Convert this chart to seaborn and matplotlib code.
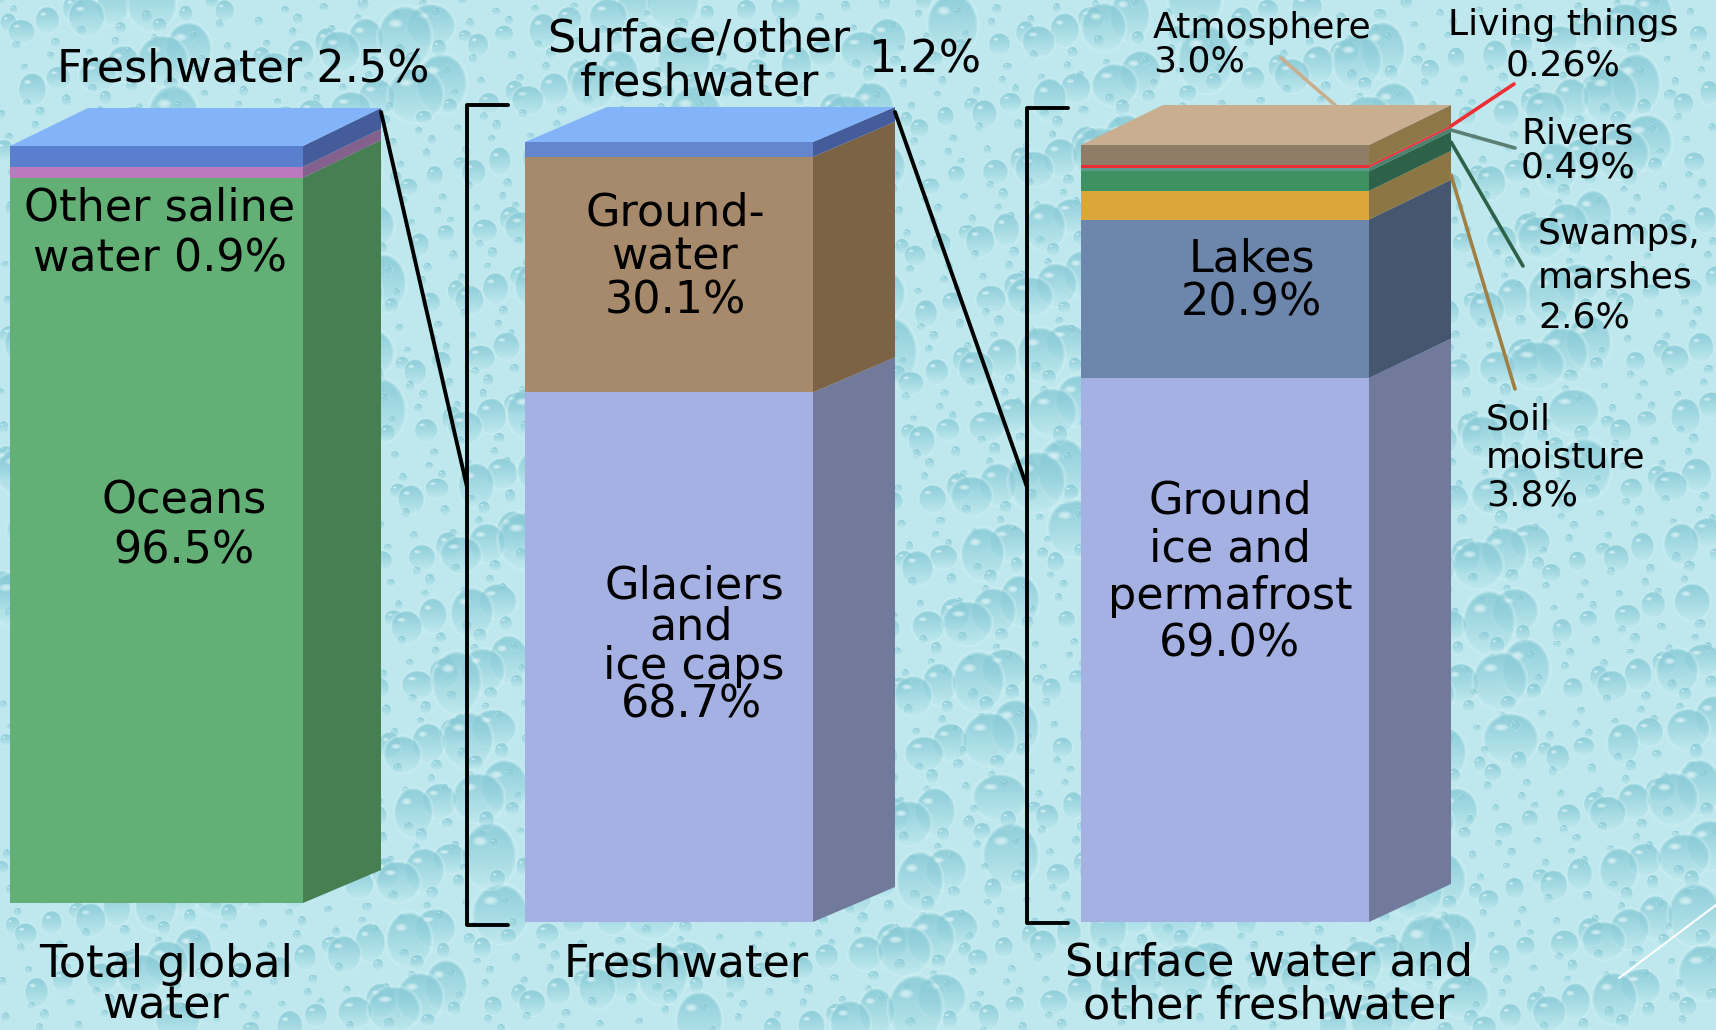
import numpy as np
import matplotlib
matplotlib.use("Agg")
import matplotlib.pyplot as plt
from matplotlib.patches import Polygon
import seaborn as sns

W, H = 1716, 1030

# Layer shares as drawn (bottom to top), in percent of each column
col1_names = ["Oceans", "Other saline water", "Freshwater"]
col1_values = [95.8, 1.45, 2.75]
col2_names = ["Glaciers and ice caps", "Groundwater", "Surface/other freshwater"]
col2_values = [67.9, 30.2, 1.9]
col3_names = ["Ground ice and permafrost", "Lakes", "Soil moisture", "Swamps, marshes",
              "Rivers", "Living things", "Atmosphere"]
col3_values = [70.0, 20.4, 3.7, 2.5, 0.5, 0.3, 2.6]

col1_front = ["#63b076", "#bc79bb", "#5a7fcf"]
col1_side = ["#457f52", "#84608d", "#455c9a"]
col2_front = ["#a5b1e2", "#a78a6c", "#6585cd"]
col2_side = ["#727a9b", "#7d6346", "#455c9a"]
col3_front = ["#a5b1e2", "#6d86ac", "#dca73a", "#3d9162", "#5f9a8c", "#ee2e35", "#8f7d68"]
col3_side = ["#727a9b", "#47566f", "#8c7644", "#2d6249", "#4f7f6e", "#ee2e35", "#8d7748"]
top_colors = ["#83b3f8", "#83b3f8", "#c9ae90"]

large_text = [
    ("Freshwater 2.5%", 243, 69), ("Surface/other", 699, 39), ("freshwater", 699, 83),
    ("1.2%", 925, 60), ("Other saline", 160, 208), ("water 0.9%", 160, 259),
    ("Oceans", 184, 501), ("96.5%", 184, 551), ("Ground-", 675, 213), ("water", 675, 257),
    ("30.1%", 675, 301), ("Glaciers", 694, 586), ("and", 691, 627), ("ice caps", 694, 666),
    ("68.7%", 691, 705), ("Lakes", 1252, 259), ("20.9%", 1251, 303), ("Ground", 1230, 501),
    ("ice and", 1230, 549), ("permafrost", 1230, 597), ("69.0%", 1230, 644),
    ("Total global", 166, 964), ("water", 166, 1006), ("Freshwater", 686, 964),
    ("Surface water and", 1269, 963), ("other freshwater", 1269, 1006),
]
small_center = [
    ("Living things", 1563, 25), ("0.26%", 1563, 65),
    ("Rivers", 1578, 133), ("0.49%", 1578, 168),
]
small_left = [
    ("Atmosphere", 1153, 28), ("3.0%", 1153, 62),
    ("Swamps,", 1538, 234), ("marshes", 1538, 277), ("2.6%", 1538, 318),
    ("Soil", 1486, 419), ("moisture", 1486, 458), ("3.8%", 1486, 496),
]
leaders = [
    ("#c9ae90", [1281, 1335], [58, 105]),
    ("#ee2e35", [1451, 1514], [126, 84]),
    ("#5b7f72", [1451, 1515], [130, 148]),
    ("#2d6249", [1451, 1523], [142, 266]),
    ("#a07f45", [1451, 1515], [175, 389]),
]


def water_texture():
    """Deterministic droplet wallpaper built from low-discrepancy sequences."""
    yy, xx = np.mgrid[0:H, 0:W].astype(float)
    img = np.zeros((H, W, 3))
    img[:] = np.array([190, 232, 238]) / 255
    drop = np.array([136, 202, 214]) / 255
    phi1, phi2, phi3 = 0.7548776662, 0.5698402910, 0.6180339887
    for i in range(3200):
        cx = ((i * phi1) % 1) * W
        cy = ((i * phi2) % 1) * H
        u = (i * phi3) % 1
        r = 4 + 24 * u ** 5
        ry = r * (0.85 + 0.45 * ((i * 0.381) % 1))
        x0, x1 = max(int(cx - r - 2), 0), min(int(cx + r + 3), W)
        y0, y1 = max(int(cy - ry - 2), 0), min(int(cy + ry + 3), H)
        if x1 <= x0 or y1 <= y0:
            continue
        dx = (xx[y0:y1, x0:x1] - cx) / r
        dy = (yy[y0:y1, x0:x1] - cy) / ry
        d = dx ** 2 + dy ** 2
        mask = np.clip((1 - d) * 5, 0, 1)
        grad = np.clip(0.45 - 0.45 * dy, 0.05, 0.8)
        alpha = (mask * grad)[..., None]
        img[y0:y1, x0:x1] = img[y0:y1, x0:x1] * (1 - alpha) + drop * alpha
        ring = np.clip(1 - np.abs(d - 1.08) * 7, 0, 1)[..., None] * 0.4
        img[y0:y1, x0:x1] = img[y0:y1, x0:x1] * (1 - ring) + np.array([0.84, 0.95, 0.96]) * ring
        hl = np.clip(1 - (((dx + 0.35) / 0.3) ** 2 + ((dy + 0.45) / 0.16) ** 2), 0, 1)[..., None] * 0.7
        img[y0:y1, x0:x1] = img[y0:y1, x0:x1] * (1 - hl) + np.array([0.9, 0.97, 0.98]) * hl
    return np.clip(img, 0, 1)


sns.set_theme(style="white")
plt.rcParams["font.family"] = ["DejaVu Sans"]
fig = plt.figure(figsize=(W / 100, H / 100), dpi=100)


def px_axes(left, right, top, bottom, zorder):
    return fig.add_axes([left / W, 1 - bottom / H, (right - left) / W, (bottom - top) / H], zorder=zorder)


bg = px_axes(0, W, 0, H, 0)
bg.imshow(water_texture(), extent=(0, W, H, 0), aspect="auto", interpolation="bilinear")
bg.set_xlim(0, W)
bg.set_ylim(H, 0)
bg.axis("off")


def column(name, values, front, side, top, left, right, back, ytop, ybase, depth_low, depth_high):
    ax = px_axes(left, right, ytop, ybase, 1)
    ax.patch.set_alpha(0)
    total = sum(values)
    scale = (ybase - ytop) / total
    dx = (back - right) / (right - left)

    def dy(v):
        return (depth_low + (depth_high - depth_low) * v / total) / scale

    bottom = 0.0
    for v, fc, sc in zip(values, front, side):
        sns.barplot(x=[name], y=[v], bottom=bottom, color=fc, saturation=1, width=1,
                    errorbar=None, linewidth=0, ax=ax, legend=False)
        up = bottom + v
        ax.add_patch(Polygon([(0.5, bottom), (0.5 + dx, bottom + dy(bottom)), (0.5 + dx, up + dy(up)),
                              (0.5, up)], closed=True, fc=sc, ec="none", clip_on=False))
        bottom = up
    ax.add_patch(Polygon([(-0.5, bottom), (0.5, bottom), (0.5 + dx, bottom + dy(bottom)),
                          (-0.5 + dx, bottom + dy(bottom))],
                         closed=True, fc=top, ec="none", clip_on=False))
    ax.set_xlim(-0.5, 0.5)
    ax.set_ylim(0, total)
    ax.axis("off")
    return ax


column("Total global water", col1_values, col1_front, col1_side, top_colors[0],
       10, 303, 381, 146, 903, 33, 38)
column("Freshwater", col2_values, col2_front, col2_side, top_colors[1],
       525, 813, 895, 142, 922, 35, 35)
column("Surface water and other freshwater", col3_values, col3_front, col3_side, top_colors[2],
       1081, 1369, 1451, 145, 922, 38, 40)

ov = px_axes(0, W, 0, H, 5)
ov.patch.set_alpha(0)
ov.set_xlim(0, W)
ov.set_ylim(H, 0)
ov.axis("off")

# connectors, brackets
ov.plot([381, 467], [112, 487], color="black", lw=2.8, solid_capstyle="round")
ov.plot([508, 467, 467, 508], [105, 105, 925, 925], color="black", lw=2.8)
ov.plot([895, 1027], [112, 487], color="black", lw=2.8, solid_capstyle="round")
ov.plot([1068, 1027, 1027, 1068], [108, 108, 923, 923], color="black", lw=2.8)
ov.plot([1619, 1716], [978, 905], color="white", lw=1.5)
for c, xs, ys in leaders:
    ov.plot(xs, ys, color=c, lw=2.6)

for s, x, y in large_text:
    ov.text(x, y, s, ha="center", va="center", fontsize=32, color="black")
for s, x, y in small_center:
    ov.text(x, y, s, ha="center", va="center", fontsize=26, color="black")
for s, x, y in small_left:
    ov.text(x, y, s, ha="left", va="center", fontsize=26, color="black")

fig.savefig("out.png", dpi=100)
